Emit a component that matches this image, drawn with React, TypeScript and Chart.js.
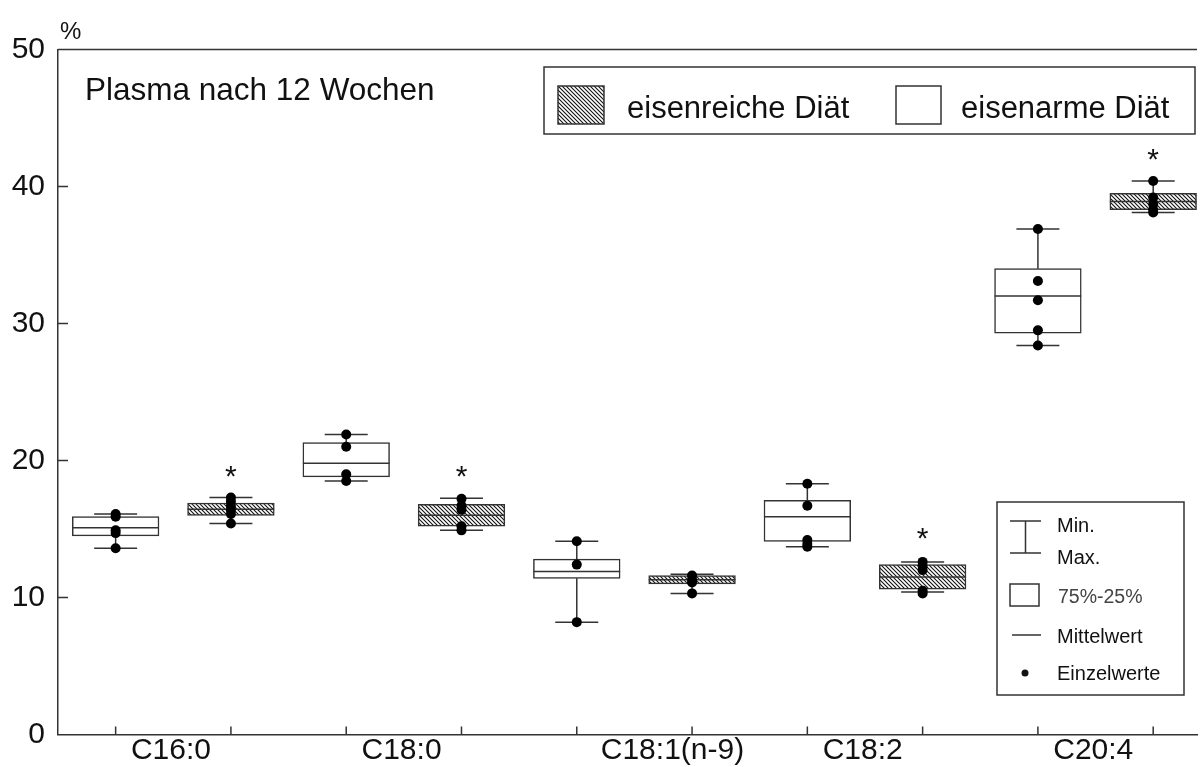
import React, { useEffect, useRef } from "react";
import { Chart, registerables } from "chart.js";
Chart.register(...registerables);

const categories = ["C16:0", "C18:0", "C18:1(n-9)", "C18:2", "C20:4"];
// x-axis value at which each category label is centred
const categoryLabelAt = [0.48, 2.48, 4.83, 6.48, 8.48];
const yTickValues = [0, 10, 20, 30, 40, 50];

// eisenarme Diät (open boxes)
const armMin = [13.6, 18.5, 8.2, 13.7, 28.4];
const armQ1 = [14.5, 18.8, 11.4, 14.1, 29.3];
const armMean = [15.1, 19.8, 11.9, 15.9, 32.0];
const armQ3 = [15.9, 21.3, 12.8, 17.1, 34.0];
const armMax = [16.1, 21.9, 14.1, 18.3, 36.9];
const armPoints = [
  [16.1, 15.9, 14.9, 14.7, 13.6],
  [21.9, 21.0, 19.0, 18.5],
  [14.1, 12.4, 8.2],
  [18.3, 16.7, 14.2, 13.9, 13.7],
  [36.9, 33.1, 31.7, 29.5, 28.4],
];

// eisenreiche Diät (hatched boxes)
const reichMin = [15.4, 14.9, 10.3, 10.4, 38.1];
const reichQ1 = [16.0, 15.2, 11.0, 10.6, 38.3];
const reichMean = [16.45, 16.0, 11.3, 11.5, 38.9];
const reichQ3 = [16.9, 16.8, 11.6, 12.4, 39.5];
const reichMax = [17.3, 17.25, 11.7, 12.6, 40.4];
const reichPoints = [
  [17.3, 17.0, 16.7, 16.4, 16.1, 15.4],
  [17.2, 16.7, 16.4, 15.2, 14.9],
  [11.6, 11.3, 11.1, 10.3],
  [12.6, 12.3, 12.0, 10.5, 10.3],
  [40.4, 39.2, 38.7, 38.3, 38.1],
];

// significance stars (value position) above the hatched boxes
const starValues: (number | null)[] = [19.45, 19.45, null, 14.96, 42.6];

const FONT = '"Liberation Sans", Arial, Helvetica, sans-serif';
const INK = "#333";

type Box = { x: number; y: [number, number]; hatched: boolean; min: number; max: number; mean: number };

const boxes: Box[] = [];
categories.forEach((_, i) => {
  boxes.push({ x: 2 * i, y: [armQ1[i], armQ3[i]], hatched: false, min: armMin[i], max: armMax[i], mean: armMean[i] });
  boxes.push({ x: 2 * i + 1, y: [reichQ1[i], reichQ3[i]], hatched: true, min: reichMin[i], max: reichMax[i], mean: reichMean[i] });
});

const points: { x: number; y: number }[] = [];
categories.forEach((_, i) => {
  armPoints[i].forEach((v) => points.push({ x: 2 * i, y: v }));
  reichPoints[i].forEach((v) => points.push({ x: 2 * i + 1, y: v }));
});

const BOX_W = 86.7;
const CAP_HALF = 21.5;

export default function App() {
  const ref = useRef<HTMLCanvasElement>(null);

  useEffect(() => {
    const canvas = ref.current!;
    const pc = document.createElement("canvas");
    pc.width = 4;
    pc.height = 4;
    const p = pc.getContext("2d")!;
    p.fillStyle = "#fff";
    p.fillRect(0, 0, 4, 4);
    p.strokeStyle = "#111";
    p.lineWidth = 1.1;
    p.beginPath();
    p.moveTo(-1, -1);
    p.lineTo(5, 5);
    p.moveTo(-1, 3);
    p.lineTo(1, 5);
    p.moveTo(3, -1);
    p.lineTo(5, 1);
    p.stroke();
    const hatch = canvas.getContext("2d")!.createPattern(pc, "repeat")!;

    const deco = {
      id: "deco",
      afterDatasetDraw(chart: any, args: any) {
        if (args.meta.type !== "bar") return;
        const { ctx, scales } = chart;
        const x = scales.x;
        const y = scales.y;
        ctx.save();
        ctx.strokeStyle = INK;
        ctx.lineWidth = 1.5;
        boxes.forEach((b) => {
          const cx = x.getPixelForValue(b.x);
          const pMin = y.getPixelForValue(b.min);
          const pMax = y.getPixelForValue(b.max);
          const pQ1 = y.getPixelForValue(b.y[0]);
          const pQ3 = y.getPixelForValue(b.y[1]);
          const pMean = y.getPixelForValue(b.mean);
          ctx.beginPath();
          ctx.moveTo(cx, pQ3);
          ctx.lineTo(cx, pMax);
          ctx.moveTo(cx - CAP_HALF, pMax);
          ctx.lineTo(cx + CAP_HALF, pMax);
          ctx.moveTo(cx, pQ1);
          ctx.lineTo(cx, pMin);
          ctx.moveTo(cx - CAP_HALF, pMin);
          ctx.lineTo(cx + CAP_HALF, pMin);
          ctx.moveTo(cx - BOX_W / 2, pMean);
          ctx.lineTo(cx + BOX_W / 2, pMean);
          ctx.stroke();
        });
        ctx.restore();
      },
      afterDraw(chart: any) {
        const { ctx, scales, chartArea } = chart;
        const x = scales.x;
        const y = scales.y;
        ctx.save();
        ctx.strokeStyle = INK;
        ctx.lineWidth = 1.5;
        // top frame line
        const top = y.getPixelForValue(50);
        ctx.beginPath();
        ctx.moveTo(chartArea.left, top);
        ctx.lineTo(chartArea.right, top);
        // inward y ticks
        yTickValues.forEach((v) => {
          if (v === 0 || v === 50) return;
          const py = y.getPixelForValue(v);
          ctx.moveTo(chartArea.left, py);
          ctx.lineTo(chartArea.left + 10, py);
        });
        // inward x ticks
        boxes.forEach((b) => {
          const px = x.getPixelForValue(b.x);
          ctx.moveTo(px, chartArea.bottom);
          ctx.lineTo(px, chartArea.bottom - 8);
        });
        ctx.stroke();

        ctx.fillStyle = "#111";
        // category labels
        ctx.font = `30px ${FONT}`;
        ctx.textAlign = "center";
        ctx.textBaseline = "middle";
        categories.forEach((c, i) => {
          ctx.fillText(c, x.getPixelForValue(categoryLabelAt[i]), 751);
        });

        // stars
        ctx.font = `30px ${FONT}`;
        ctx.textBaseline = "alphabetic";
        starValues.forEach((v, i) => {
          if (v == null) return;
          ctx.fillText("*", x.getPixelForValue(2 * i + 1), y.getPixelForValue(v) + 18);
        });

        // % unit label
        ctx.textAlign = "left";
        ctx.font = `24px ${FONT}`;
        ctx.fillText("%", 60, 39);

        // title
        ctx.font = `31.5px ${FONT}`;
        ctx.fillText("Plasma nach 12 Wochen", 85, 100);

        // top legend
        ctx.strokeRect(544, 67, 651, 67);
        ctx.fillStyle = hatch;
        ctx.fillRect(558, 86, 46, 38);
        ctx.strokeRect(558, 86, 46, 38);
        ctx.fillStyle = "#fff";
        ctx.fillRect(896, 86, 45, 38);
        ctx.strokeRect(896, 86, 45, 38);
        ctx.fillStyle = "#111";
        ctx.font = `31px ${FONT}`;
        ctx.fillText("eisenreiche Diät", 627, 118);
        ctx.fillText("eisenarme Diät", 961, 118);

        // key legend
        ctx.strokeRect(997, 502, 187, 193);
        ctx.beginPath();
        ctx.moveTo(1010, 521);
        ctx.lineTo(1041, 521);
        ctx.moveTo(1010, 553);
        ctx.lineTo(1041, 553);
        ctx.moveTo(1025.5, 521);
        ctx.lineTo(1025.5, 553);
        ctx.moveTo(1012, 635);
        ctx.lineTo(1041, 635);
        ctx.stroke();
        ctx.strokeRect(1010, 584, 29, 22);
        ctx.beginPath();
        ctx.arc(1025, 673, 3.5, 0, Math.PI * 2);
        ctx.fill();
        ctx.font = `20px ${FONT}`;
        ctx.fillText("Min.", 1057, 532);
        ctx.fillText("Max.", 1057, 563.5);
        ctx.fillText("Mittelwert", 1057, 643);
        ctx.fillText("Einzelwerte", 1057, 679.5);
        ctx.fillStyle = "#444";
        ctx.font = `19.5px ${FONT}`;
        ctx.fillText("75%-25%", 1058, 603);
        ctx.restore();
      },
    };

    const chart = new Chart(canvas, {
      type: "bar",
      data: {
        datasets: [
          {
            type: "scatter",
            data: points,
            pointRadius: 5,
            pointHoverRadius: 5,
            pointBackgroundColor: "#000",
            pointBorderWidth: 0,
            showLine: false,
            order: 1,
          } as any,
          {
            type: "bar",
            data: boxes as any,
            backgroundColor: boxes.map((b) => (b.hatched ? hatch : "#fff")),
            borderColor: INK,
            borderWidth: 1.5,
            borderSkipped: false,
            barThickness: BOX_W,
            order: 2,
          } as any,
        ],
      },
      options: {
        responsive: false,
        animation: false,
        events: [],
        layout: { padding: { left: 0, right: 2, top: 49.5, bottom: 0 } },
        plugins: { legend: { display: false }, tooltip: { enabled: false } },
        scales: {
          x: {
            type: "linear",
            offset: false,
            min: -0.5,
            max: 9.38,
            grid: { display: false, drawTicks: false, offset: false },
            border: { display: true, color: INK, width: 1.5 },
            ticks: { display: false },
            afterFit: (s: any) => {
              s.height = 32.5;
            },
          },
          y: {
            type: "linear",
            min: 0,
            max: 50,
            grid: { display: false, drawTicks: false },
            border: { display: true, color: INK, width: 1.5 },
            ticks: {
              stepSize: 10,
              padding: 13,
              color: "#111",
              font: { family: FONT, size: 30 },
            },
            afterFit: (s: any) => {
              s.width = 58;
            },
          },
        },
      },
      plugins: [deco],
    });
    return () => chart.destroy();
  }, []);

  return (
    <div style={{ position: "fixed", left: 0, top: 0, width: 1202, height: 767, background: "#fff" }}>
      <canvas ref={ref} width={1202} height={767} style={{ display: "block", width: 1202, height: 767 }} />
    </div>
  );
}
